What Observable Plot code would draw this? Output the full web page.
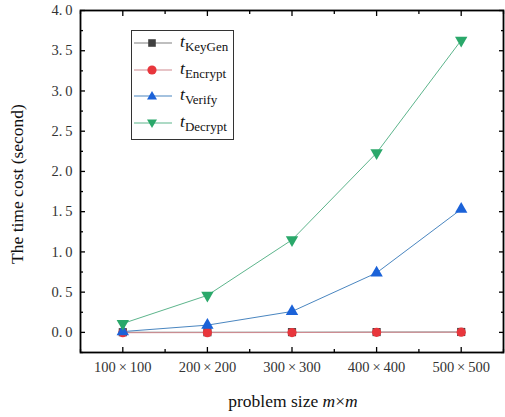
<!DOCTYPE html>
<html><head><meta charset="utf-8">
<script src="https://cdn.jsdelivr.net/npm/d3@7"></script>
<script src="https://cdn.jsdelivr.net/npm/@observablehq/plot@0.6"></script>
<style>
body{margin:0;background:#fff;}
#wrap{position:relative;width:505px;height:417px;font-family:"Liberation Serif",serif;}
#legend{position:absolute;left:131px;top:30px;width:103px;height:110px;border:1px solid #333;background:#fff;box-sizing:border-box;}
.item{position:absolute;left:0;height:26px;display:flex;align-items:center;}
.item svg{width:44px;height:14px;}
.item span{font-size:17.5px;font-style:italic;margin-left:4px;color:#111;}
.item sub{font-size:13px;font-style:normal;vertical-align:-4px;}
</style></head>
<body><div id="wrap"></div>
<script>
const sizes = [100, 200, 300, 400, 500];
const seriesNames = ["KeyGen", "Encrypt", "Verify", "Decrypt"];
const keyGen  = [0.002, 0.002, 0.003, 0.004, 0.005];
const encrypt = [-0.004, -0.003, -0.002, 0.001, 0.002];
const verify  = [0.01, 0.09, 0.26, 0.74, 1.53];
const decrypt = [0.11, 0.46, 1.15, 2.23, 3.63];
const lineColors = ["#808080", "#d08a90", "#4a86c0", "#5db58c"];
const markColors = ["#404040", "#e8363c", "#1b62d8", "#2aa86a"];
const symbols = ["square", "circle", "triangle", "triangle"];
const rotations = [0, 0, 0, 180];
const values = [keyGen, encrypt, verify, decrypt];

const data = [];
seriesNames.forEach((s, k) => sizes.forEach((m, i) => data.push({series: s, k, m, t: values[k][i]})));

const majorY = d3.range(0, 4.01, 0.5);
const minorY = d3.range(-0.25, 4.01, 0.5);
const minorX = [50, 150, 250, 350, 450, 550];
const none = () => "";
const axStyle = {label: null, stroke: "#000", strokeWidth: 1.3};

const plot = Plot.plot({
  width: 505, height: 417,
  marginLeft: 80, marginRight: 2, marginTop: 10, marginBottom: 65,
  x: {domain: [50, 550]},
  y: {domain: [-0.25, 4.0]},
  style: {fontFamily: "Liberation Serif, serif", fontSize: "14.5px", color: "#333"},
  marks: [
    Plot.axisX(sizes, {...axStyle, tickSize: -5, tickPadding: 14, tickFormat: d => `${d}\u2009×\u2009${d}`}),
    Plot.axisX(sizes, {...axStyle, anchor: "top", tickSize: -5, tickFormat: none}),
    Plot.axisX(minorX, {...axStyle, tickSize: -3, tickFormat: none}),
    Plot.axisX(minorX, {...axStyle, anchor: "top", tickSize: -3, tickFormat: none}),
    Plot.axisY(majorY, {...axStyle, tickSize: -5, tickPadding: 13, tickFormat: d => d3.format(".1f")(d).replace(".", ".\u2009")}),
    Plot.axisY(majorY, {...axStyle, anchor: "right", tickSize: -5, tickFormat: none}),
    Plot.axisY(minorY, {...axStyle, tickSize: -3, tickFormat: none}),
    Plot.axisY(minorY, {...axStyle, anchor: "right", tickSize: -3, tickFormat: none}),
    Plot.frame({stroke: "#000", strokeWidth: 1.8}),
    ...seriesNames.map((s, k) => Plot.line(data.filter(d => d.k === k), {x: "m", y: "t", stroke: lineColors[k], strokeWidth: 1})),
    ...seriesNames.map((s, k) => Plot.dot(data.filter(d => d.k === k), {x: "m", y: "t", symbol: () => symbols[k], rotate: rotations[k], fill: markColors[k], r: 4.6, stroke: "none"}))
  ]
});

const svg = d3.select(plot);
svg.append("text").attr("x", 293).attr("y", 407).attr("text-anchor", "middle")
  .attr("font-size", 17.5).attr("fill", "#111").attr("font-family", "Liberation Serif, serif")
  .call(t => { t.append("tspan").text("problem size "); t.append("tspan").attr("font-style", "italic").text("m"); t.append("tspan").text("×"); t.append("tspan").attr("font-style", "italic").text("m"); });
svg.append("text").attr("transform", "translate(23,184) rotate(-90)").attr("text-anchor", "middle")
  .attr("font-size", 17.5).attr("fill", "#111").attr("font-family", "Liberation Serif, serif")
  .text("The time cost (second)");

const wrap = document.getElementById("wrap");
wrap.appendChild(plot);

const legend = document.createElement("div");
legend.id = "legend";
const symPaths = {
  square: "M-3.8,-3.8h7.6v7.6h-7.6z",
  circle: "M4.6,0A4.6,4.6 0 1,1 -4.6,0A4.6,4.6 0 1,1 4.6,0",
  triangle: "M0,-5L5,3.6L-5,3.6Z"
};
seriesNames.forEach((s, k) => {
  const it = document.createElement("div");
  it.className = "item";
  it.style.top = (-1 + k * 26.5) + "px";
  it.innerHTML = `<svg viewBox="0 0 44 14"><line x1="2" x2="40" y1="7" y2="7" stroke="${lineColors[k]}" stroke-width="1.2"/><path transform="translate(20,7) rotate(${rotations[k]})" d="${symPaths[symbols[k]]}" fill="${markColors[k]}"/></svg><span>t<sub>${s}</sub></span>`;
  legend.appendChild(it);
});
wrap.appendChild(legend);
</script></body></html>
